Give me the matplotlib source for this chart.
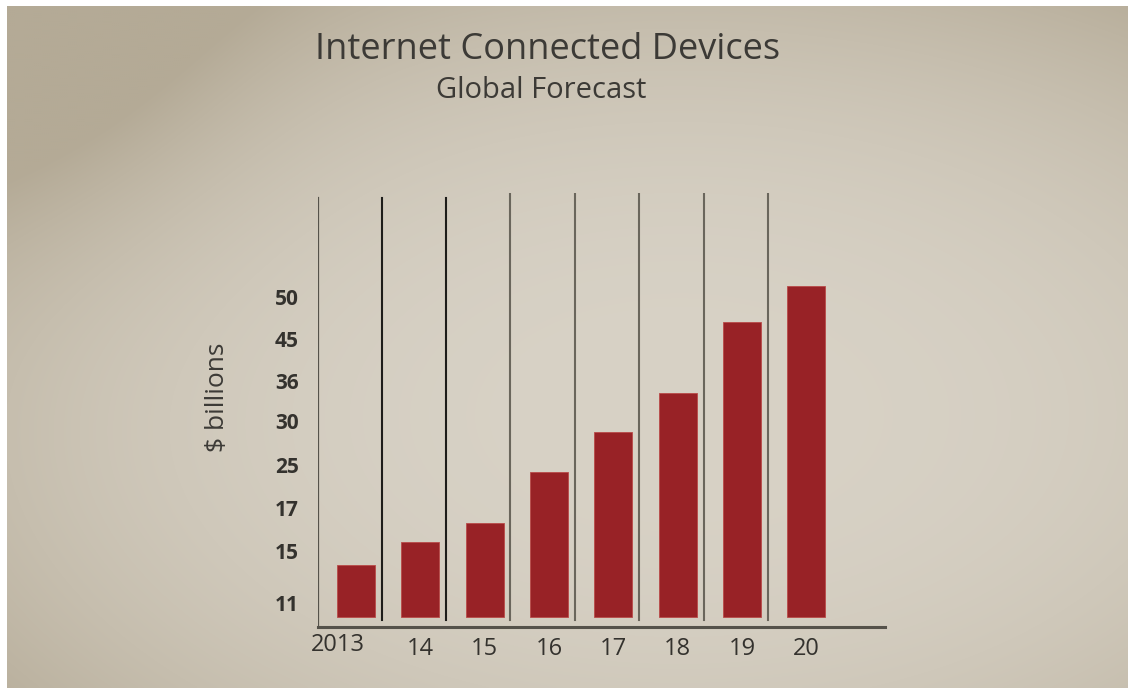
import numpy as np
import matplotlib
matplotlib.use("Agg")
import matplotlib.pyplot as plt
from matplotlib.transforms import ScaledTranslation

# ---- data ----
years = ["2013", "14", "15", "16", "17", "18", "19", "20"]
values = [13.9, 15.4, 16.3, 23.7, 28.8, 34.2, 47.0, 51.3]
ytick_vals = [11, 15, 17, 25, 30, 36, 45, 50]
ytick_labels = ["11", "15", "17", "25", "30", "36", "45", "50"]
title = "Internet Connected Devices"
subtitle = "Global Forecast"
ylabel = "$ billions"

# piecewise axis (the original's tick labels are unevenly spaced)
KNOT_V = [-20, 0, 11, 15, 17, 25, 30, 36, 45, 50, 70]
KNOT_P = [-25.45, 0, 14, 66, 109, 152, 196, 236, 278, 320, 488]

def fwd(v):
    return np.interp(v, KNOT_V, KNOT_P)

def inv(p):
    return np.interp(p, KNOT_P, KNOT_V)

W, H = 1128, 698
fig = plt.figure(figsize=(W / 100, H / 100), dpi=100)
fig.patch.set_facecolor("white")

# ---- paper background ----
bg = fig.add_axes([7 / W, 10 / H, 1 - 7 / W, 1 - 16 / H], zorder=0)
ny, nx = 340, 560
yy, xx = np.mgrid[0:1:ny * 1j, 0:1:nx * 1j]
center = np.array([216, 210, 198]) / 255.0
edge = np.array([180, 170, 150]) / 255.0
r = np.sqrt(((xx - 0.6) / 0.8) ** 2 + ((yy - 0.6) / 0.75) ** 2)
t = np.clip(r, 0, 1) ** 2.5
tl = np.exp(-(((xx) / 0.2) ** 2 + ((yy) / 0.3) ** 2)) * 0.55
t = np.clip(t + tl, 0, 1)
img = center[None, None, :] * (1 - t[..., None]) + edge[None, None, :] * t[..., None]
bg.imshow(img, aspect="auto", extent=(0, 1, 0, 1), origin="upper", interpolation="bilinear")
bg.set_axis_off()

# ---- main axes ----
ax = fig.add_axes([318 / W, (H - 627) / H, 567 / W, 434 / H], zorder=2)
ax.patch.set_alpha(0)
ax.set_yscale("function", functions=(fwd, inv))
x = np.arange(len(years))
ax.bar(x, values, width=0.59, color="#982226", edgecolor="#b94a48", linewidth=0.6, zorder=3)

ax.set_xlim(-0.59, 8.22)
ax.set_ylim(inv(-10), inv(424))

# vertical guide lines
ax.axvline(-0.59, ymin=0, ymax=0.9885, color="#55524a", lw=1.6, zorder=2)
line_cols = ["#1e1d1a", "#1e1d1a", "#6a665c", "#6a665c", "#6a665c", "#6a665c", "#6a665c"]
for i in range(len(years) - 1):
    top = 0.9885 if i < 2 else 1.0
    ax.axvline(i + 0.4, ymin=0.016, ymax=top, color=line_cols[i], lw=1.5, zorder=2)

for s in ["top", "right", "left"]:
    ax.spines[s].set_visible(False)
ax.spines["bottom"].set_color("#55524a")
ax.spines["bottom"].set_linewidth(2.2)

txt = "#34322e"
ax.set_xticks(x)
ax.set_xticklabels(years, fontsize=17, color=txt, family="Open Sans", fontweight="medium")
ax.set_yticks(ytick_vals)
ax.set_yticklabels(ytick_labels, fontsize=15, color=txt, family="Open Sans", fontweight="bold")
ax.yaxis.set_minor_locator(matplotlib.ticker.NullLocator())
ax.tick_params(axis="x", length=0, pad=7)
ax.tick_params(axis="y", length=0, pad=14)
# first label sits left of its bar and slightly higher in the original
first = ax.get_xticklabels()[0]
first.set_transform(first.get_transform() + ScaledTranslation(-13 / 72, 3 / 72, fig.dpi_scale_trans))

fig.text(548 / W, 1 - 50 / H, title, ha="center", va="center", fontsize=26,
         color="#3c3a36", family="Open Sans", fontweight="medium")
fig.text(541 / W, 1 - 90 / H, subtitle, ha="center", va="center", fontsize=21,
         color="#3c3a36", family="Open Sans", fontweight="medium")
fig.text(218 / W, 1 - 397 / H, ylabel, ha="center", va="center", rotation=90,
         fontsize=19, color="#3c3a36", family="Open Sans", fontweight="medium")

fig.savefig("out.png", dpi=100)
